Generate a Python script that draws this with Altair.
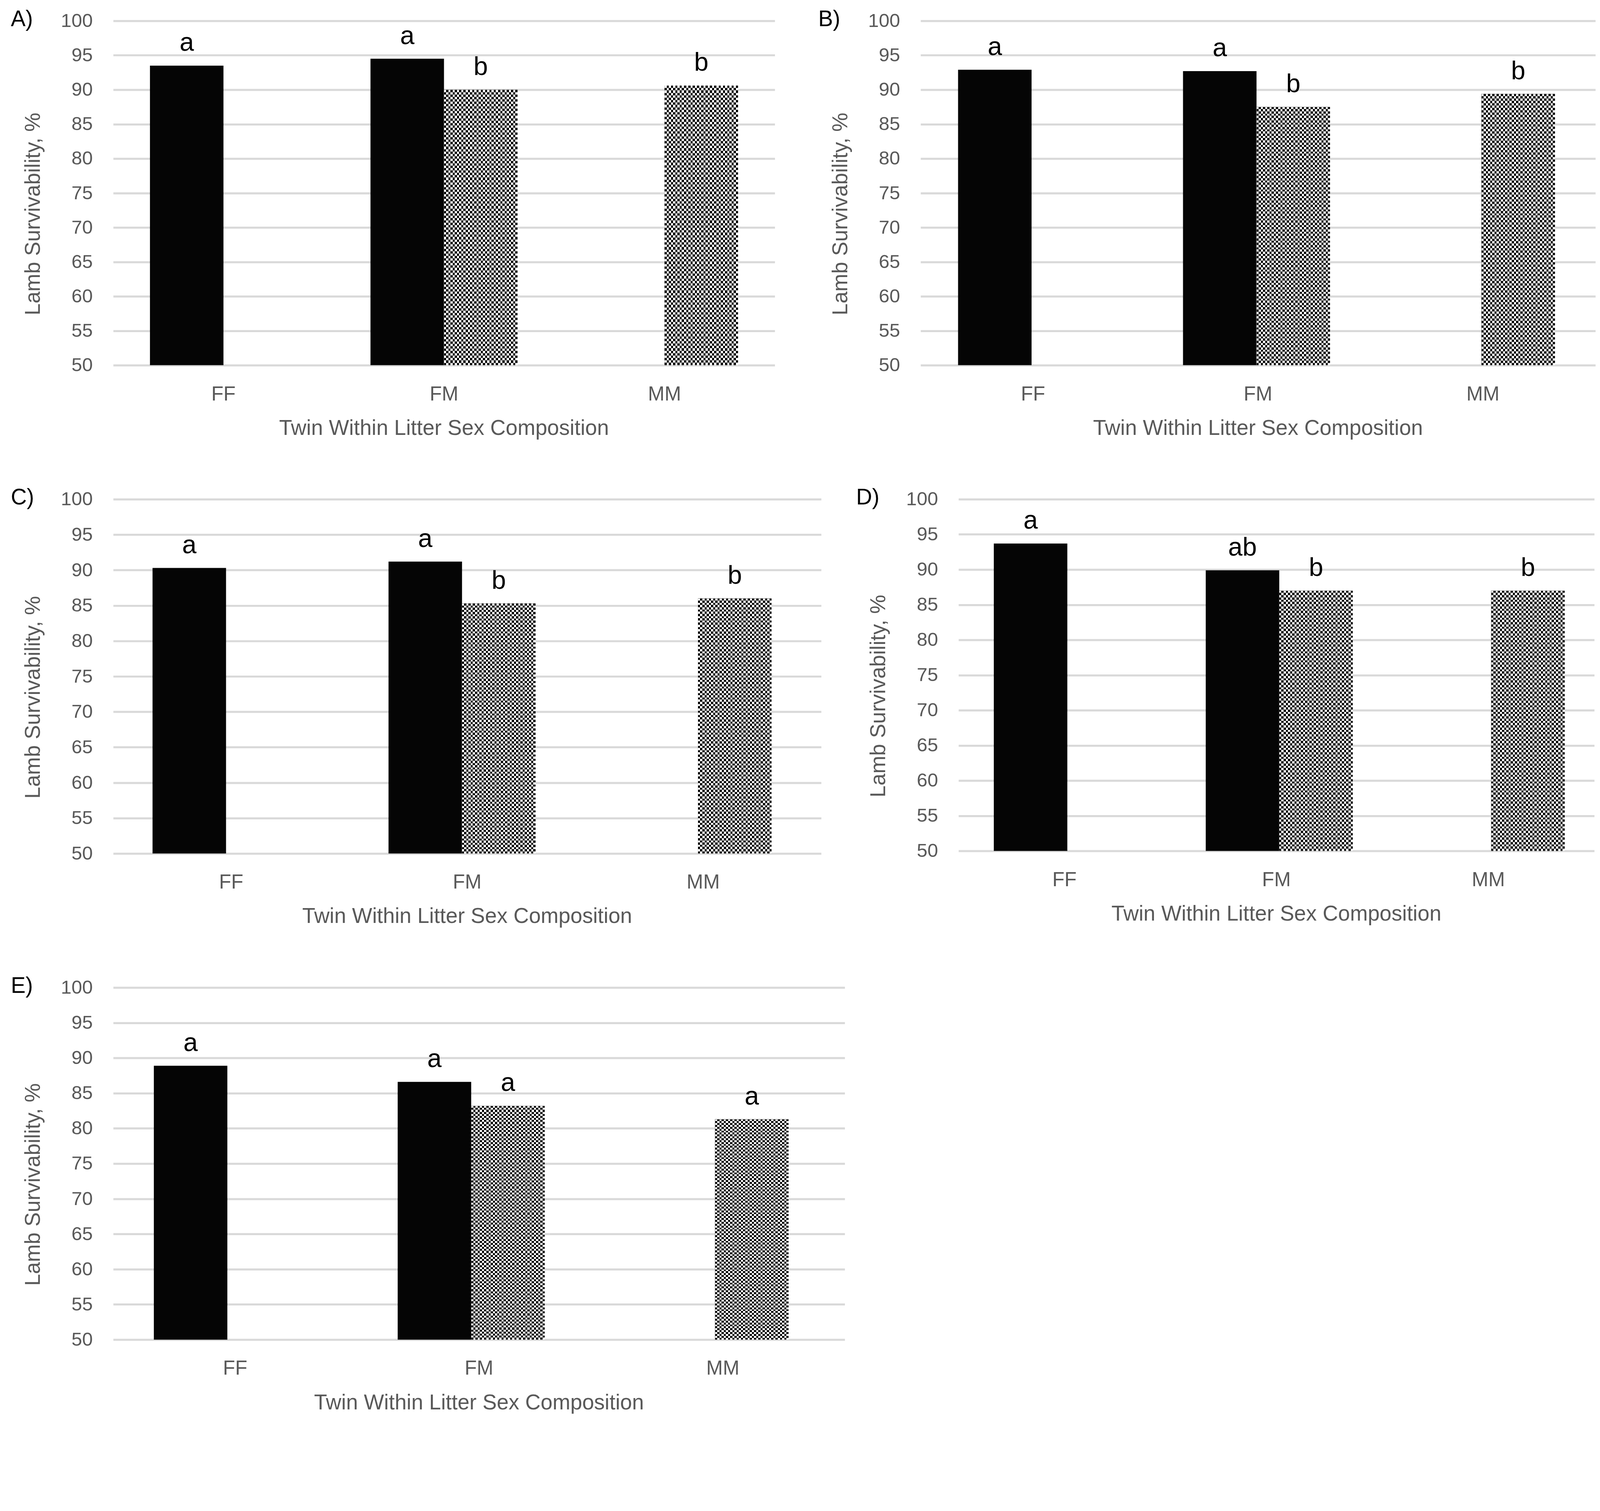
import altair as alt
import pandas as pd

categories = ["FF", "FM", "MM"]
sexes = ["Female", "Male"]
panel_labels = ["A)", "B)", "C)", "D)", "E)"]
x_title = "Twin Within Litter Sex Composition"
y_title = "Lamb Survivability, %"

# Female lambs are found in FF and FM litters, male lambs in FM and MM litters
female_cats = ["FF", "FM"]
male_cats = ["FM", "MM"]

A_female = [93.5, 94.5]
A_male = [90.0, 90.6]
A_female_letters = ["a", "a"]
A_male_letters = ["b", "b"]

B_female = [92.9, 92.7]
B_male = [87.5, 89.4]
B_female_letters = ["a", "a"]
B_male_letters = ["b", "b"]

C_female = [90.3, 91.2]
C_male = [85.3, 86.0]
C_female_letters = ["a", "a"]
C_male_letters = ["b", "b"]

D_female = [93.7, 89.9]
D_male = [87.0, 87.0]
D_female_letters = ["a", "ab"]
D_male_letters = ["b", "b"]

E_female = [88.9, 86.6]
E_male = [83.2, 81.3]
E_female_letters = ["a", "a"]
E_male_letters = ["a", "a"]

y_ticks = list(range(50, 101, 5))

FONT = "Liberation Sans"
NARROW = "Liberation Sans Narrow, Liberation Sans"
GREY = "#595959"


def stripes(n, c1, c2, vertical):
    stops = []
    for i in range(n):
        a = i / n
        m = (i + 0.5) / n
        b = min((i + 1) / n, 1.0)
        stops += [
            {"offset": a, "color": c1},
            {"offset": m, "color": c1},
            {"offset": m, "color": c2},
            {"offset": b, "color": c2},
        ]
    return {
        "gradient": "linear",
        "stops": stops,
        "x1": 0,
        "y1": 0,
        "x2": 0 if vertical else 1,
        "y2": 1 if vertical else 0,
    }


H_STRIPES = stripes(58, "#000000", "#ffffff", True)
V_STRIPES = stripes(17, "#ffffff", "#000000", False)


def panel(label, fem, mal, fl, ml, w, h):
    fdf = pd.DataFrame({"cat": female_cats, "sex": "Female", "val": fem, "letter": fl})
    mdf = pd.DataFrame({"cat": male_cats, "sex": "Male", "val": mal, "letter": ml})

    x = alt.X(
        "cat:N",
        scale=alt.Scale(domain=categories, paddingInner=1 / 3, paddingOuter=1 / 6),
        axis=alt.Axis(
            title=None,
            labelFont=NARROW,
            labelFontSize=54,
            labelColor=GREY,
            labelPadding=52,
            labelAngle=0,
            ticks=False,
            tickSize=0,
            domain=False,
            grid=False,
        ),
    )
    xo = alt.XOffset("sex:N", scale=alt.Scale(domain=sexes, paddingInner=0, paddingOuter=0))
    y = alt.Y(
        "val:Q",
        scale=alt.Scale(domain=[50, 100], nice=False, zero=False),
        axis=alt.Axis(
            title=None,
            values=y_ticks,
            labelFont=FONT,
            labelFontSize=52,
            labelColor=GREY,
            labelPadding=56,
            ticks=False,
            tickSize=0,
            domain=False,
            grid=True,
            gridColor="#d9d9d9",
            gridWidth=5.5,
        ),
    )

    fbase = alt.Chart(fdf).encode(x=x, xOffset=xo, y=y)
    mbase = alt.Chart(mdf).encode(x=x, xOffset=xo, y=y)

    f_bar = fbase.mark_bar(color="#050505").encode(y2=alt.datum(50))
    m_bar1 = mbase.mark_bar(color=H_STRIPES).encode(y2=alt.datum(50))
    m_bar2 = mbase.mark_bar(color=V_STRIPES, blend="difference").encode(y2=alt.datum(50))

    txt = dict(font=FONT, fontSize=70, color="#000000", baseline="alphabetic", align="center", dy=-40)
    f_txt = fbase.mark_text(**txt).encode(text="letter:N")
    m_txt = mbase.mark_text(**txt).encode(text="letter:N")

    lab = (
        alt.Chart(pd.DataFrame({"t": [label]}))
        .mark_text(font=FONT, fontSize=60, color="#000000", align="left", baseline="alphabetic")
        .encode(text="t:N", x=alt.value(-278), y=alt.value(14))
    )
    xt = (
        alt.Chart(pd.DataFrame({"t": [x_title]}))
        .mark_text(font=FONT, fontSize=58, color=GREY, align="center", baseline="alphabetic")
        .encode(text="t:N", x=alt.value(w / 2), y=alt.value(h + 189))
    )
    yt = (
        alt.Chart(pd.DataFrame({"t": [y_title]}))
        .mark_text(font=FONT, fontSize=58, color=GREY, align="center", baseline="alphabetic", angle=270)
        .encode(text="t:N", x=alt.value(-199), y=alt.value(h / 2 + 57))
    )

    return alt.layer(f_bar, m_bar1, m_bar2, f_txt, m_txt, lab, xt, yt).properties(width=w, height=h)


pA = panel(panel_labels[0], A_female, A_male, A_female_letters, A_male_letters, 1797, 935)
pB = panel(panel_labels[1], B_female, B_male, B_female_letters, B_male_letters, 1833, 935)
pC = panel(panel_labels[2], C_female, C_male, C_female_letters, C_male_letters, 1923, 962)
pD = panel(panel_labels[3], D_female, D_male, D_female_letters, D_male_letters, 1727, 955)
pE = panel(panel_labels[4], E_female, E_male, E_female_letters, E_male_letters, 1987, 956)

row1 = alt.hconcat(pA, pB, spacing=396, bounds="flush")
row2 = alt.hconcat(pC, pD, spacing=373, bounds="flush")

chart = (
    alt.vconcat(row1, row2, pE, spacing=129)
    .properties(
        autosize=alt.AutoSizeParams(type="none"),
        padding={"left": 299, "top": -62, "right": 4030, "bottom": 3672},
        background="white",
    )
    .configure_view(stroke=None)
)

chart.save("out.html", embed_options={"renderer": "svg", "actions": False})
